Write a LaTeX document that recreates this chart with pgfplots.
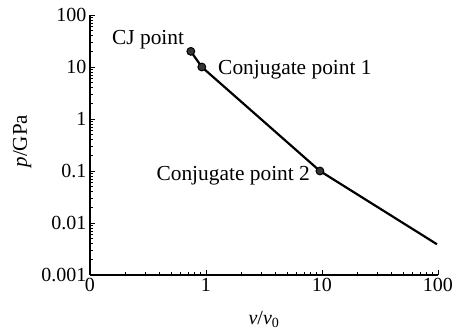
\documentclass[border=0pt]{standalone}
\usepackage{pgfplots}
\pgfplotsset{compat=1.18}
\usepackage{fontspec}
\setmainfont{Liberation Serif}
\begin{document}
\begin{tikzpicture}[font=\fontsize{20}{23}\selectfont]
\begin{axis}[
  name=ax,
  scale only axis, width=348pt, height=260pt,
  xmode=log, ymode=log,
  xmin=0.1, xmax=100, ymin=0.001, ymax=100,
  axis lines*=left,
  tick align=inside,
  axis line style={line width=1.1pt},
  major tick length=5pt, minor tick length=3pt,
  every tick/.style={black, line width=0.8pt},
  xtick={0.1,1,10,100}, xticklabels={0,1,10,100},
  ytick={0.001,0.01,0.1,1,10,100}, yticklabels={0.001,0.01,0.1,1,10,100},
  /pgf/number format/assume math mode=true,
  xlabel={\textit{v}/\textit{v}\textsubscript{0}},
  xlabel style={at={(axis description cs:0.5,-0.17)}, anchor=center, font=\fontsize{20}{23}\selectfont},
  ylabel={\textit{p}/GPa},
  ylabel style={at={(axis description cs:-0.195,0.515)}, anchor=center, rotate=0, font=\fontsize{21}{24}\selectfont},
  clip=false,
]
\addplot[black, line width=2.2pt, mark=*, mark size=3.9pt, mark options={fill=black!80, draw=black, line width=1pt}, mark indices={1,2,3}]
coordinates {(0.74,20) (0.92,10) (9.6,0.1) (98,0.0039)};
\begin{scope}[font=\fontsize{21.4}{24}\selectfont]
\node[anchor=base east, inner sep=0pt] at (axis cs:0.65,26.5) {CJ point};
\node[anchor=base west, inner sep=0pt] at (axis cs:1.27,7.3) {Conjugate point 1};
\node[anchor=base east, inner sep=0pt] at (axis cs:7.9,0.065) {Conjugate point 2};
\end{scope}
\end{axis}
\path (ax.south west) ++(-90pt,-59pt) rectangle ++(467pt,334pt);
\end{tikzpicture}
\end{document}
